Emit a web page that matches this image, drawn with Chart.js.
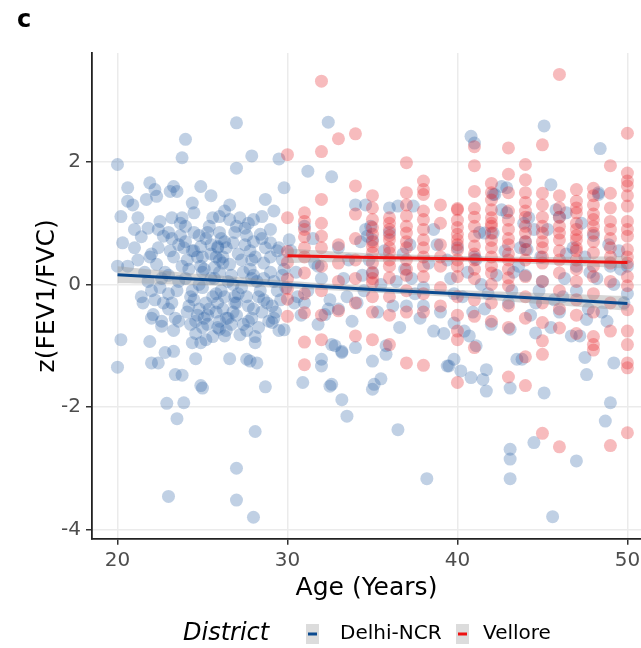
<!DOCTYPE html>
<html>
<head>
<meta charset="utf-8">
<script src="https://cdn.jsdelivr.net/npm/chart.js"></script>
<style>
  html, body { margin: 0; padding: 0; background: #fff; }
  canvas { display: block; }
</style>
</head>
<body>
<canvas id="scatterChart" width="641" height="648"></canvas>
<script>
// tick labels
const xTicks = [20, 30, 40, 50];
const yTicks = [-4, -2, 0, 2];

// Delhi-NCR participants: age (years) and z(FEV1/FVC)
const delhiAge = [
  20.0, 27.0, 24.0, 23.8, 27.9, 27.0, 29.5, 29.8, 31.2, 32.4,
  32.6, 20.6, 20.6, 20.9, 20.2, 21.2, 21.0, 21.4, 20.3, 21.0,
  20.0, 20.6, 21.8, 21.9, 22.2, 22.3, 21.7, 23.3, 23.1, 23.5,
  24.4, 24.9, 25.5, 23.8, 24.5, 22.5, 23.2, 25.6, 26.0, 26.6,
  26.3, 26.6, 27.2, 27.5, 28.0, 28.7, 29.2, 29.0, 28.5, 22.7,
  23.7, 23.6, 24.9, 25.9, 25.9, 25.5, 26.8, 27.6, 28.0, 28.4,
  29.0, 29.4, 22.3, 23.3, 24.1, 24.9, 25.7, 26.6, 27.3, 28.1,
  28.6, 22.0, 24.5, 26.2, 27.8, 29.7, 25.2, 26.0, 24.0, 27.0,
  21.8, 22.5, 23.0, 23.5, 24.0, 24.3, 24.8, 25.2, 25.5, 25.8,
  26.2, 26.5, 26.9, 27.3, 27.7, 28.0, 28.4, 28.8, 29.2, 29.6,
  22.2, 23.0, 23.4, 24.1, 24.6, 25.0, 25.3, 25.6, 26.0, 26.4,
  27.0, 27.4, 27.9, 28.3, 28.9, 29.3, 23.0, 24.5, 25.0, 26.3,
  27.6, 28.5, 29.9, 22.0, 22.6, 24.8, 25.9, 26.8, 28.1, 29.5,
  21.5, 24.2, 26.0, 27.8, 29.0, 21.4, 22.1, 22.6, 23.6, 26.0,
  26.3, 27.2, 28.1, 29.1, 24.9, 20.2, 20.0, 21.9, 22.0, 22.4,
  22.8, 23.3, 23.4, 23.8, 22.9, 23.9, 23.5, 24.6, 25.0, 24.9,
  24.4, 26.6, 27.6, 27.8, 28.2, 28.7, 28.1, 27.0, 23.0, 27.0,
  28.0, 29.8, 30.9, 32.5, 32.6, 33.2, 33.5, 32.0, 32.0, 32.8,
  33.2, 34.0, 35.0, 35.0, 35.1, 35.5, 35.8, 36.5, 38.2, 39.4,
  32.2, 34.0, 34.6, 36.0, 36.5, 37.4, 40.8, 41.0, 42.1, 42.6,
  45.1, 45.5, 45.8, 48.4, 48.3, 44.2, 44.5, 43.7, 34.9, 34.7,
  42.1, 42.6, 38.6, 39.5, 39.8, 40.2, 40.8, 41.5, 41.7, 41.7,
  41.1, 43.1, 43.1, 43.5, 43.8, 45.1, 44.6, 46.7, 47.2, 47.6,
  47.6, 47.5, 49.2, 49.0, 48.7, 44.5, 43.1, 43.1, 43.1, 45.6,
  47.0, 32.6, 33.2, 35.8, 39.8, 40.4, 40.7, 30.5, 31.2, 31.8,
  32.5, 33.3, 34.1, 34.8, 35.5, 36.2, 36.9, 37.5, 38.3, 39.0,
  39.6, 40.3, 41.0, 41.6, 42.3, 43.0, 43.6, 44.3, 45.0, 45.7,
  46.4, 47.0, 47.8, 48.5, 49.2, 49.8, 30.2, 31.5, 33.0, 34.3,
  36.0, 37.2, 38.6, 40.0, 41.3, 42.8, 44.0, 45.3, 46.8, 48.0,
  49.5, 30.8, 33.8, 36.6, 39.2, 42.0, 45.5, 48.8, 37.8, 35.3,
  46.0, 50.0, 50.0, 47.3, 46.0, 42.2, 42.9, 46.4, 48.3, 43.9,
  41.6, 42.9, 44.1, 48.9, 41.1, 30.1, 34.6, 35.0, 30.4, 31.0,
  22.8, 23.6, 24.4, 25.1, 25.8, 26.7, 27.5, 28.2, 29.0, 29.7,
  24.7, 25.4, 26.1, 26.9, 27.7, 28.6, 25.3, 24.2, 26.5, 27.1,
  21.2, 21.6, 22.4, 23.2, 24.0, 25.0, 25.7, 26.4, 27.9, 29.4,
  30.6, 31.6, 32.4, 33.6, 34.5, 35.7, 37.0, 38.0, 39.4, 40.6,
  41.8, 43.3, 44.8, 46.2, 47.5, 48.2, 49.6, 38.8, 36.8, 44.9,
  22.0, 22.6, 23.2, 23.8, 24.4, 25.0, 25.6, 26.2, 26.8, 27.4,
  28.0, 28.6, 29.2, 29.8, 24.6, 25.2, 25.8, 26.4, 27.0, 27.6,
  23.1, 23.9, 24.7, 25.5, 26.3, 27.1, 27.9, 28.7, 22.7, 29.5,
  24.3, 25.1, 25.9, 26.7, 24.8, 25.4, 26.0, 23.3, 28.3, 29.1,
  22.4, 23.0, 23.7, 24.5, 25.3, 26.1, 26.9, 27.7, 28.5, 21.9,
  31.0, 32.0, 33.5, 35.0, 36.4, 38.0, 39.8, 41.4, 43.2, 44.6,
  46.3, 47.7, 49.0, 31.8, 33.0, 34.4, 37.3, 40.9, 44.0, 47.0
];
const delhiZ = [
  1.96, 2.64, 2.37, 2.07, 2.10, 1.90, 2.05, 1.58, 1.85, 2.65,
  1.76, 1.58, 1.36, 1.30, 1.11, 1.09, 0.90, 0.78, 0.68, 0.60,
  0.30, 0.30, 0.92, 1.66, 1.55, 1.44, 1.39, 1.60, 1.52, 1.52,
  1.33, 1.60, 1.45, 1.09, 1.17, 1.03, 1.09, 1.09, 1.11, 1.06,
  1.20, 1.30, 1.09, 0.92, 1.06, 1.39, 1.20, 0.90, 1.11, 0.79,
  0.80, 0.65, 0.62, 0.62, 0.60, 0.50, 0.68, 0.80, 0.70, 0.82,
  0.68, 0.55, 0.33, 0.45, 0.40, 0.30, 0.28, 0.33, 0.40, 0.45,
  0.35, 0.50, 0.55, 0.45, 0.55, 0.40, 0.75, 0.85, 0.95, 0.95,
  0.05, -0.05, 0.15, -0.10, 0.10, -0.20, 0.00, -0.30, 0.10, -0.15,
  -0.40, 0.05, -0.20, -0.05, -0.35, 0.15, -0.10, -0.30, 0.05, -0.25,
  -0.25, -0.40, -0.55, -0.45, -0.60, -0.70, -0.50, -0.85, -0.60, -0.75,
  -0.50, -0.65, -0.55, -0.70, -0.60, -0.45, -0.15, -0.25, -0.05, -0.20,
  -0.20, -0.45, -0.05, -0.55, -0.68, -0.40, -0.30, -0.45, -0.85, -0.75,
  -0.30, 0.25, 0.20, 0.25, 0.20, -0.20, -0.49, -0.60, -0.60, -0.73,
  -0.84, -0.82, -0.95, -0.62, -0.95, -0.90, -1.35, -0.93, -1.28, -1.28,
  -1.11, -1.09, -1.47, -1.48, -1.94, -1.93, -2.19, -1.21, -1.69, -1.65,
  -0.95, -1.21, -1.22, -1.25, -1.28, -1.67, -2.40, -3.00, -3.46, -3.52,
  -3.80, -0.74, -1.60, -1.66, -1.63, -1.88, -2.15, -1.22, -1.33, -1.00,
  -1.11, -1.03, -1.25, -1.71, -1.63, -1.54, -1.14, -2.37, -3.17, -1.33,
  -0.49, 1.30, 1.30, 1.25, 1.28, 1.28, 2.42, 2.31, 1.47, 1.60,
  2.59, 1.63, 1.22, 2.22, 1.50, 1.09, 0.90, 0.60, 0.95, 0.79,
  0.84, 1.22, -0.76, -1.33, -1.22, -1.41, -1.52, -1.55, -1.39, -1.74,
  -1.00, -0.73, -1.69, -1.22, -1.22, -1.77, -0.79, -0.84, -0.84, -0.57,
  -1.47, -1.19, -1.28, -1.93, -2.23, -2.58, -2.69, -2.85, -3.17, -3.79,
  -2.88, -0.98, -1.09, -1.00, -0.63, -0.76, -0.84, 0.20, -0.10, 0.30,
  -0.25, 0.10, -0.30, 0.40, 0.00, -0.35, 0.25, -0.15, 0.35, -0.45,
  0.10, -0.20, 0.45, -0.40, 0.15, -0.30, 0.30, -0.50, 0.05, -0.25,
  0.50, -0.10, 0.20, -0.45, 0.00, -0.30, 0.55, 0.75, 0.60, 0.70,
  0.85, 0.65, 0.90, 0.60, 0.85, 0.55, 0.70, 0.90, 0.60, 0.80,
  0.55, -0.50, -0.60, -0.70, -0.80, -0.65, -0.70, -0.60, -0.55, -0.45,
  -0.45, -0.15, 0.30, 1.00, 1.10, 1.47, 1.58, 1.17, 1.47, 1.00,
  0.84, 1.17, 0.57, 0.65, 0.41, 0.73, 0.90, 0.73, -0.30, 0.95,
  0.20, 0.05, 0.55, 0.25, 0.45, 0.15, 0.65, 0.05, 0.45, 0.15,
  -0.50, -0.40, -0.10, -0.30, -0.60, -0.25, -0.65, -0.35, -0.55, -0.15,
  0.40, 0.20, 0.60, 0.75, 0.70, 0.45, 0.10, 0.60, 0.10, -0.10,
  -0.20, 0.35, -0.40, 0.40, -0.10, 0.55, -0.35, -0.05, 0.40, 0.20,
  -0.15, 0.20, -0.10, -0.20, 0.45, 0.10, 0.25, 0.65, 0.50, 0.45,
  -0.10, 0.10, -0.30, 0.30, -0.10, 0.20, -0.20, 0.35, 0.00, 0.20,
  -0.40, 0.10, -0.55, 0.25, -0.80, -0.90, -0.45, -0.55, -0.30, -0.75,
  0.55, 0.60, 0.45, 0.65, 0.70, 0.50, 0.40, 0.60, -0.30, 0.60,
  -0.65, -0.55, -0.70, -0.65, 0.80, 0.95, 0.40, -0.75, -0.20, -0.35,
  0.90, 0.85, 1.00, 0.85, 0.85, 0.75, 0.85, 1.00, 0.75, 0.45,
  -0.30, 0.10, -0.20, 0.20, 0.05, -0.35, -0.15, 0.00, -0.10, -0.30,
  0.10, -0.40, 0.30, -0.65, -0.40, 0.15, 0.10, -0.45, 0.15, 0.30
];

// Vellore participants: one list of z values per whole year of age
const velloreAges = [30, 31, 32, 33, 34, 35, 36, 37, 38, 39, 40, 41, 42, 43, 44, 45, 46, 47, 48, 49, 50];
const velloreZ = [
  [2.12, 1.09, 0.54, 0.36, 0.09, -0.07, -0.24, -0.52],
  [1.17, 1.03, 0.90, 0.78, 0.60, 0.45, 0.19, -0.15, -0.46, -0.94, -1.31],
  [3.32, 2.17, 1.39, 1.00, 0.79, 0.60, 0.30, -0.10, -0.50, -0.90],
  [2.38, 0.65, 0.35, 0.05, -0.43],
  [2.46, 1.61, 1.15, 0.75, 0.40, 0.10, -0.30, -0.84],
  [1.45, 1.25, 1.06, 0.93, 0.82, 0.70, 0.62, 0.52, 0.35, 0.19, 0.10, 0.03, -0.20, -0.45, -0.90],
  [1.09, 1.00, 0.90, 0.80, 0.73, 0.60, 0.52, 0.40, 0.30, 0.11, -0.20, -0.50, -0.98],
  [1.99, 1.50, 1.30, 1.12, 0.95, 0.84, 0.70, 0.60, 0.40, 0.25, 0.15, -0.10, -0.45, -1.28],
  [1.69, 1.55, 1.47, 1.20, 1.06, 0.90, 0.73, 0.60, 0.45, 0.30, 0.13, -0.15, -0.45, -1.32],
  [1.30, 1.00, 0.65, 0.45, 0.30, -0.05, -0.35],
  [1.24, 1.22, 1.05, 0.93, 0.82, 0.73, 0.65, 0.56, 0.40, 0.30, 0.13, -0.20, -0.50, -0.76, -0.90, -1.60],
  [2.25, 1.94, 1.52, 1.24, 1.10, 0.95, 0.79, 0.63, 0.50, 0.40, 0.25, 0.10, -0.25, -0.52, -1.03],
  [1.65, 1.50, 1.38, 1.22, 1.09, 1.00, 0.95, 0.84, 0.72, 0.60, 0.45, 0.30, 0.19, 0.00, -0.30, -0.60],
  [2.23, 1.80, 1.50, 1.20, 1.05, 0.90, 0.75, 0.65, 0.50, 0.40, 0.25, 0.11, -0.02, -0.35, -0.70, -1.51],
  [1.96, 1.71, 1.50, 1.34, 1.20, 1.10, 0.95, 0.84, 0.70, 0.57, 0.40, 0.13, -0.20, -0.55, -1.18, -1.65],
  [2.28, 1.49, 1.30, 1.10, 0.95, 0.84, 0.70, 0.60, 0.45, 0.35, 0.05, -0.30, -0.62, -0.92, -1.14, -2.43],
  [3.43, 1.45, 1.25, 1.10, 0.95, 0.84, 0.73, 0.55, 0.40, 0.19, -0.10, -0.40, -0.71, -2.65],
  [1.55, 1.36, 1.25, 1.17, 1.00, 0.90, 0.80, 0.73, 0.60, 0.55, 0.40, 0.25, 0.05, -0.25, -0.50, -0.80],
  [1.57, 1.45, 1.30, 1.15, 1.06, 0.95, 0.84, 0.70, 0.52, 0.30, 0.13, -0.15, -0.45, -0.85, -0.98, -1.07],
  [1.94, 1.49, 1.25, 1.03, 0.90, 0.75, 0.60, 0.45, 0.35, 0.05, -0.30, -0.76, -2.63],
  [2.47, 1.82, 1.69, 1.61, 1.45, 1.28, 1.03, 0.90, 0.79, 0.57, 0.45, 0.35, 0.13, -0.02, -0.41, -0.76, -0.98, -1.28, -1.36, -2.42]
];

// linear fits with their confidence bands
const delhiFitX = [20, 25, 30, 35, 40, 45, 50];
const delhiFit  = [0.16, 0.08, 0.00, -0.08, -0.15, -0.23, -0.31];
const delhiHi   = [0.30, 0.17, 0.06, -0.03, -0.09, -0.14, -0.19];
const delhiLo   = [0.02, -0.01, -0.06, -0.13, -0.21, -0.32, -0.43];

const velloreFitX = [30, 35, 40, 45, 50];
const velloreFit  = [0.47, 0.44, 0.42, 0.39, 0.36];
const velloreHi   = [0.59, 0.51, 0.47, 0.45, 0.46];
const velloreLo   = [0.35, 0.37, 0.37, 0.33, 0.26];

const BLUE_PT = 'rgba(45, 100, 165, 0.3)';
const RED_PT = 'rgba(230, 30, 35, 0.3)';
const BLUE_LINE = '#0b4a8f';
const RED_LINE = '#ee1111';
const BAND = 'rgba(153, 153, 153, 0.4)';
const FONT = "'DejaVu Sans', sans-serif";

Chart.defaults.font.family = FONT;

const xy = (xs, ys) => xs.map((x, i) => ({x: x, y: ys[i]}));

const delhiPoints = xy(delhiAge, delhiZ);
const vellorePoints = [];
velloreAges.forEach((a, i) => {
  velloreZ[i].forEach(z => vellorePoints.push({x: a, y: z}));
});

const bandStyle = {type: 'line', pointRadius: 0, borderWidth: 1, borderColor: 'rgba(0,0,0,0)', tension: 0.4, order: 1};

// ggplot style legend + panel letter
const districtLegend = {
  id: 'districtLegend',
  afterDraw(chart) {
    const ctx = chart.ctx;
    ctx.save();
    ctx.fillStyle = '#000';
    ctx.textBaseline = 'middle';
    ctx.font = 'bold 24px ' + FONT;
    ctx.fillText('c', 17, 21);

    const y = 634;
    ctx.font = 'italic 24px ' + FONT;
    ctx.fillText('District', 183, y);

    const keys = [
      {x: 306, color: BLUE_LINE, text: 'Delhi-NCR', tx: 340},
      {x: 456, color: RED_LINE, text: 'Vellore', tx: 483}
    ];
    ctx.font = '20px ' + FONT;
    keys.forEach(k => {
      ctx.fillStyle = '#dcdcdc';
      ctx.fillRect(k.x, y - 10, 13, 20);
      ctx.strokeStyle = k.color;
      ctx.lineWidth = 3;
      ctx.beginPath();
      ctx.moveTo(k.x + 2, y);
      ctx.lineTo(k.x + 11, y);
      ctx.stroke();
      ctx.fillStyle = '#000';
      ctx.fillText(k.text, k.tx, y);
    });
    ctx.restore();
  }
};

const ctx = document.getElementById('scatterChart').getContext('2d');

new Chart(ctx, {
  type: 'scatter',
  data: {
    datasets: [
      { label: 'Delhi-NCR fit', type: 'line', data: xy(delhiFitX, delhiFit),
        borderColor: BLUE_LINE, borderWidth: 3, pointRadius: 0, fill: false, order: 0 },
      { label: 'Vellore fit', type: 'line', data: xy(velloreFitX, velloreFit),
        borderColor: RED_LINE, borderWidth: 3, pointRadius: 0, fill: false, order: 0 },
      Object.assign({ label: 'delhi hi', data: xy(delhiFitX, delhiHi), fill: false }, bandStyle),
      Object.assign({ label: 'delhi lo', data: xy(delhiFitX, delhiLo), fill: '-1', backgroundColor: BAND }, bandStyle),
      Object.assign({ label: 'vellore hi', data: xy(velloreFitX, velloreHi), fill: false }, bandStyle),
      Object.assign({ label: 'vellore lo', data: xy(velloreFitX, velloreLo), fill: '-1', backgroundColor: BAND }, bandStyle),
      { label: 'Vellore', data: vellorePoints, backgroundColor: RED_PT,
        pointRadius: 6.5, pointBorderWidth: 0, borderWidth: 0, order: 2 },
      { label: 'Delhi-NCR', data: delhiPoints, backgroundColor: BLUE_PT,
        pointRadius: 6.5, pointBorderWidth: 0, borderWidth: 0, order: 3 }
    ]
  },
  options: {
    responsive: false,
    animation: false,
    events: [],
    layout: { autoPadding: false, padding: { left: 0, right: 0, top: 53, bottom: 45 } },
    plugins: {
      legend: { display: false },
      tooltip: { enabled: false }
    },
    scales: {
      x: {
        type: 'linear',
        min: 18.5,
        max: 50.8,
        afterBuildTicks: s => { s.ticks = xTicks.map(v => ({value: v})); },
        afterFit: s => { s.height = 64.3; s.paddingLeft = 0; s.paddingRight = 0; },
        grid: { color: '#ebebeb', lineWidth: 1.5, tickColor: '#333', tickLength: 6, tickWidth: 1.5 },
        border: { color: '#222', width: 1.8 },
        ticks: { font: { size: 20 }, color: '#4d4d4d', padding: 4, maxRotation: 0 },
        title: { display: true, text: 'Age (Years)', font: { size: 25 }, color: '#000', padding: { top: 0, bottom: 0 } }
      },
      y: {
        type: 'linear',
        min: -4.15,
        max: 3.78,
        afterBuildTicks: s => { s.ticks = yTicks.map(v => ({value: v})); },
        afterFit: s => { s.width = 92; s.paddingTop = 0; s.paddingBottom = 0; },
        grid: { color: '#ebebeb', lineWidth: 1.5, tickColor: '#333', tickLength: 6, tickWidth: 1.5 },
        border: { color: '#222', width: 1.8 },
        ticks: { font: { size: 20 }, color: '#4d4d4d', padding: 5 },
        title: { display: true, text: 'z(FEV1/FVC)', font: { size: 25 }, color: '#000', padding: { top: 32, bottom: 0 } }
      }
    }
  },
  plugins: [districtLegend]
});
</script>
</body>
</html>
